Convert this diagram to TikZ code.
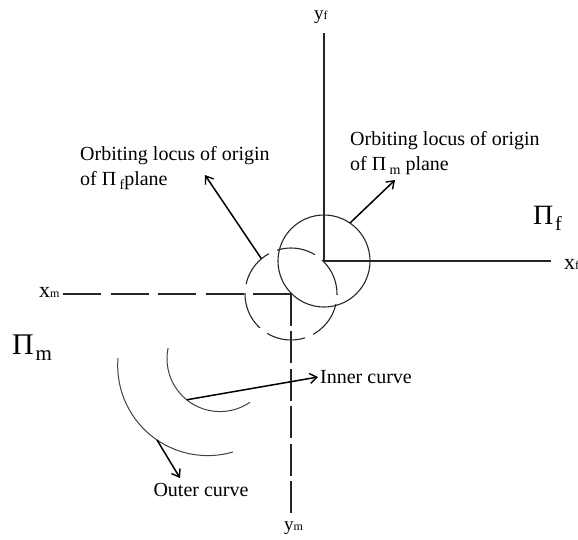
\documentclass[tikz,border=0pt]{standalone}
\usepackage{fontspec}
\setmainfont{Liberation Serif}
\usetikzlibrary{arrows.meta,calc}
\newcommand{\txtsz}{\fontsize{20}{24}\selectfont}
\newcommand{\subsz}[1]{\,\raisebox{-4pt}{\fontsize{14}{14}\selectfont #1}}
\begin{document}
\begin{tikzpicture}[x=1pt,y=-1pt,
  axis/.style={line width=1.1pt,draw=black!85},
  circ/.style={line width=1.1pt,draw=black!85},
  curv/.style={line width=1.0pt,draw=black!75},
  arr/.style={line width=1.5pt,draw=black,-{Straight Barb[length=7pt,width=10pt,line width=1.4pt]}},
  lbl/.style={inner sep=0pt,anchor=base west,font=\txtsz},
  every node/.style={text=black}]
\useasboundingbox (0,0) rectangle (578,539);
% origins
\coordinate (Of) at (324,261);
\coordinate (Om) at (291,294);
\coordinate (yfTop) at (324,33);
\coordinate (xfEnd) at (551,261);
\coordinate (xmEnd) at (63,294);
\coordinate (ymEnd) at (291,513);
% f axes
\draw[axis] (Of) -- (yfTop);
\draw[axis] (Of) -- (xfEnd);
% m axes (dashed)
\draw[axis,dash pattern=on 38pt off 9.5pt] (xmEnd) -- (Om);
\draw[axis,dash pattern=on 32pt off 5.4pt] (Om) -- (ymEnd);
% orbit circles
\draw[circ] (Of) circle[radius=46pt];
\draw[circ,dash pattern=on 39.17pt off 9pt,dash phase=1pt] (Om) circle[radius=46pt];
% curves
\coordinate (ci) at (220,358.6);
\coordinate (co) at (207.7,365.6);
\draw[curv] ($(ci)+(168.5:53pt)$) arc[start angle=168.5,end angle=304.7,radius=53pt];
\draw[curv] ($(co)+(175.2:90pt)$) arc[start angle=175.2,end angle=286.3,radius=90pt];
% axis labels
\node[inner sep=0pt,anchor=base west] (yf) at (314,19) {{\fontsize{19}{19}\selectfont y}{\fontsize{12}{12}\selectfont f}};
\node[inner sep=0pt,anchor=base west] (xf) at (564,269) {{\fontsize{22}{22}\selectfont x}{\fontsize{12}{12}\selectfont f}};
\node[inner sep=0pt,anchor=base west] (xm) at (39,297) {{\fontsize{22}{22}\selectfont x}{\fontsize{12}{12}\selectfont m}};
\node[inner sep=0pt,anchor=base west] (ym) at (284,530) {{\fontsize{19}{19}\selectfont y}{\fontsize{12}{12}\selectfont m}};
% plane labels
\node[inner sep=0pt,anchor=base west] (PIf) at (533,224) {{\fontsize{28}{28}\selectfont Π}\,\raisebox{-6pt}{\fontsize{20}{20}\selectfont f}};
\node[inner sep=0pt,anchor=base west] (PIm) at (12,354) {{\fontsize{30}{30}\selectfont Π}\,\raisebox{-6pt}{\fontsize{21}{21}\selectfont m}};
% texts
\node[lbl] (tf1) at (80,160) {Orbiting locus of origin};
\node[lbl] (tf2) at (80,185) {of Π\subsz{f}plane};
\node[lbl] (tm1) at (350,145) {Orbiting locus of origin};
\node[lbl] (tm2) at (350,170) {of Π\subsz{m} plane};
\node[inner sep=2pt,anchor=west,font=\txtsz] (inner) at (318,377) {Inner curve};
\node[inner sep=0pt,anchor=center,font=\txtsz] (outer) at (201,490) {Outer curve};
% arrows
\coordinate (pm) at ($(Of)+(55.6:46pt)$);
\coordinate (pmTip) at (395,180);
\draw[arr] (pm) -- (pmTip);
\coordinate (pf) at ($(Om)+(130:46pt)$);
\coordinate (pfTip) at (205,175);
\draw[arr] (pf) -- (pfTip);
\coordinate (pi) at ($(ci)+(231:53pt)$);
\draw[arr] (pi) -- (inner.west);
\coordinate (po) at ($(co)+(235.7:90pt)$);
\coordinate (poTip) at (180,478);
\draw[arr] (po) -- (poTip);
\end{tikzpicture}
\end{document}
